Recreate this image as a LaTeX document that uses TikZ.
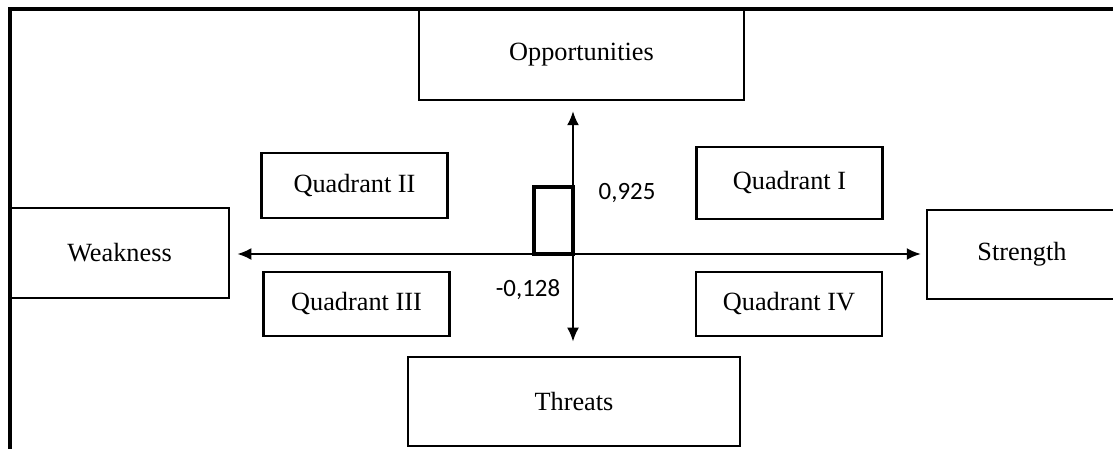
\documentclass[tikz,border=0pt]{standalone}
\usepackage{fontspec}
\setmainfont{Liberation Serif}
\newfontfamily\numfont{Carlito}
\usetikzlibrary{arrows.meta}

\begin{document}
\begin{tikzpicture}[x=0.025cm, y=-0.025cm, >={Latex[length=10pt,width=8.5pt]},
        every node/.style={font=\fontsize{18.7}{22}\selectfont},
        swotbox/.style={draw, line width=1.7pt, inner sep=0pt},
        quadbox/.style={swotbox, minimum width=4.65cm},
        numlabel/.style={font=\numfont\fontsize{17.7}{20}\selectfont},
        axis/.style={<->, line width=1.5pt}]
        \useasboundingbox (0,0) rectangle (1113,448);

        % Outer frame (right and bottom edges run off the page)
        \draw[line width=2.6pt] (10,460) -- (10,9) -- (1125,9);

        % The four SWOT boxes
        \node[swotbox, minimum width=8.125cm, minimum height=2.25cm] (opp) at (581.5,55) {Opportunities};
        \node[swotbox, minimum width=8.3cm, minimum height=2.225cm] (thr) at (574,401.5) {Threats};
        \node[swotbox, minimum width=5.475cm, minimum height=2.25cm] (weak) at (119.5,253) {Weakness};
        \node[swotbox, minimum width=4.75cm, minimum height=2.225cm] (str) at (1022,254.5) {Strength};

        % Quadrant boxes
        \foreach \name/\x/\y/\h/\label in {q1/789.5/183/1.8cm/Quadrant I, q2/354.5/185.5/1.625cm/Quadrant II,
                q3/356.5/304/1.6cm/Quadrant III, q4/789/304/1.6cm/Quadrant IV} {
            \node[quadbox, minimum height=\h] (\name) at (\x,\y) {\label};
        }

        % Axes crossing at the origin
        \coordinate (o) at (573,254);
        \draw[axis, shorten <=5pt, shorten >=3.5pt] (weak.east |- o) -- (str.west |- o);
        \draw[axis, shorten <=7pt, shorten >=10pt] (o |- opp.south) -- (o |- thr.north);

        % Position of the result (thick box)
        \node[draw, line width=2.7pt, minimum width=0.975cm, minimum height=1.675cm,
            inner sep=0pt, outer sep=0pt, anchor=south east] (res) at (o) {};

        % Values on the axes
        \node[numlabel] (vy) at (627,193) {0,925};
        \node[numlabel] (vx) at (528,290) {-0,128};
    \end{tikzpicture}
\end{document}
